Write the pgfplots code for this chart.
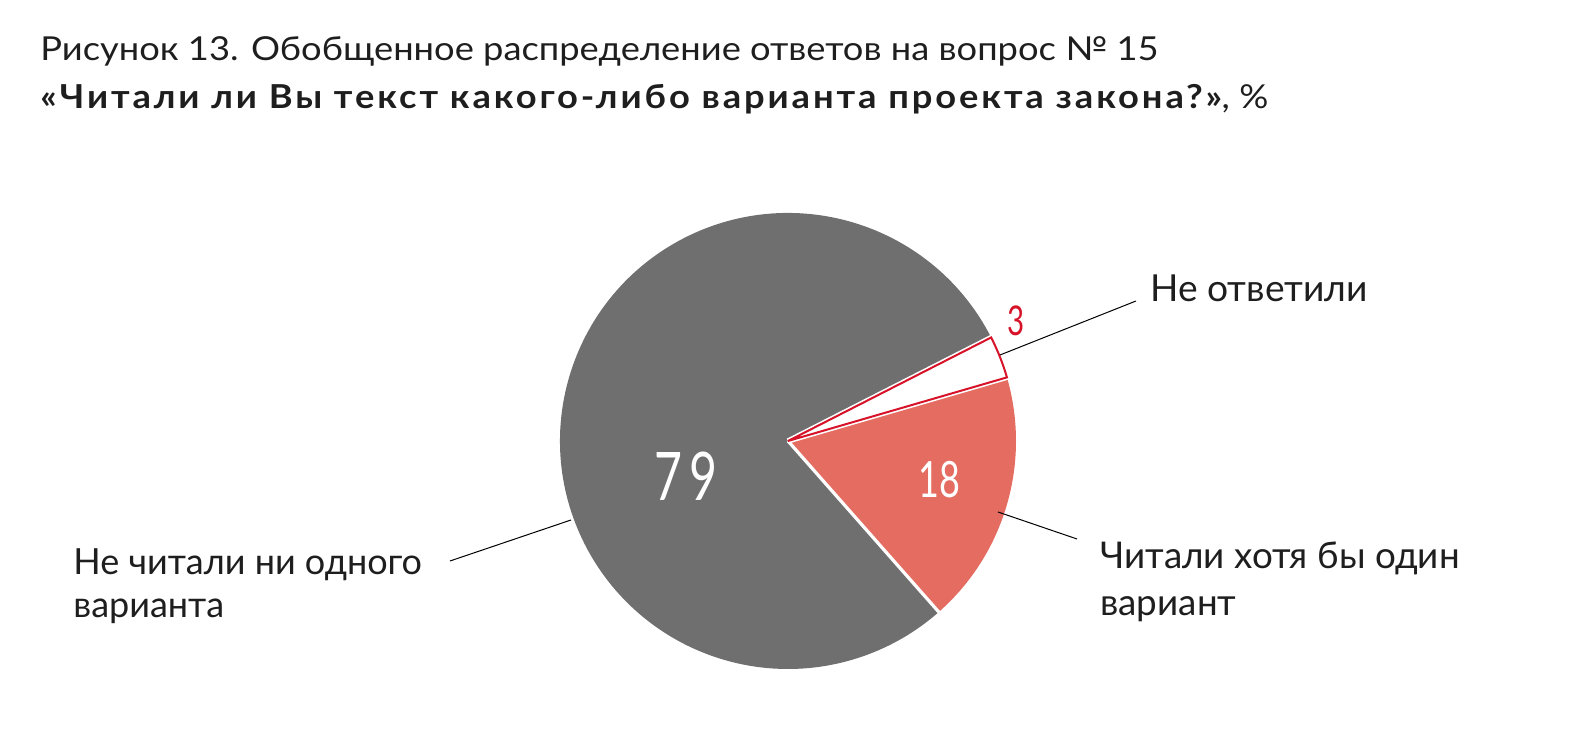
\documentclass[border=0pt]{standalone}
\usepackage{fontspec}
\setmainfont{Lato}
\usepackage{pgfplots}
\pgfplotsset{compat=1.18}
\usepackage{pgfplotstable}
\definecolor{pgray}{HTML}{6F6F6F}
\definecolor{psalmon}{HTML}{E56C60}
\definecolor{pred}{HTML}{D7132A}
\definecolor{ptext}{HTML}{1E1E1E}

% share (%) of each slice, counter-clockwise from the start angle
\pgfplotstableread{
idx value
0 18
1 3
2 79
}\piedata

\begin{document}
\begin{tikzpicture}
\pgfplotstablegetelem{0}{value}\of\piedata \pgfmathsetmacro\vA{\pgfplotsretval}
\pgfplotstablegetelem{1}{value}\of\piedata \pgfmathsetmacro\vB{\pgfplotsretval}
\pgfplotstablegetelem{2}{value}\of\piedata \pgfmathsetmacro\vC{\pgfplotsretval}
\pgfmathsetmacro\aZ{-48.6}
\pgfmathsetmacro\aA{\aZ+3.6*\vA}
\pgfmathsetmacro\aB{\aA+3.6*\vB}
\pgfmathsetmacro\aC{\aB+3.6*\vC}
\begin{axis}[width=790pt,height=366pt,scale only axis,
  xmin=0,xmax=1580,ymin=0,ymax=732,hide axis,clip=false]
\path (axis cs:0,0) rectangle (axis cs:1580,732);
% slices
\fill[psalmon] (axis cs:788,291) -- ++(\aZ:114pt) arc[start angle=\aZ,end angle=\aA,radius=114pt] -- cycle;
\fill[pgray] (axis cs:788,291) -- ++(\aB:114pt) arc[start angle=\aB,end angle=\aC,radius=114pt] -- cycle;
% separators
\draw[white,line width=1.6pt] (axis cs:788,291) -- ++(\aZ:114.5pt);
\draw[white,line width=2.6pt] (axis cs:788,291) -- ++(\aA:114.5pt);
\draw[white,line width=2.6pt] (axis cs:788,291) -- ++(\aB:114.5pt);
% small slice
\draw[pred,line width=1pt,fill=white,line join=miter] (axis cs:788,291) -- ++(\aA:114pt) arc[start angle=\aA,end angle=\aB,radius=114pt] -- cycle;
% leader lines
\draw[black,line width=0.5pt] (axis cs:1000,377) -- (axis cs:1136,431);
\draw[black,line width=0.5pt] (axis cs:998,220) -- (axis cs:1077,193);
\draw[black,line width=0.5pt] (axis cs:450,171) -- (axis cs:571,212);
% title
\node[anchor=base west,inner sep=0pt,font=\fontsize{16.5pt}{18pt}\selectfont,text=ptext] at (axis cs:40,671) {\scalebox{1.1}[1]{Рисунок 13. Обобщенное распределение ответов на вопрос №~15}};
\node[anchor=base west,inner sep=0pt,font=\fontsize{16.5pt}{18pt}\selectfont,text=ptext] at (axis cs:40,623) {\scalebox{1.1}[1]{{\bfseries\addfontfeatures{LetterSpace=8}«Читали ли Вы текст какого-либо варианта проекта закона?»}, \%}};
% slice values
\node[inner sep=0pt,text=pred,font=\fontsize{20.5pt}{21pt}\selectfont] at (axis cs:1016,411) {\scalebox{0.72}[1]{3}};
\node[inner sep=0pt,text=white,font=\fontsize{33.5pt}{34pt}\selectfont] at (axis cs:686,256) {\scalebox{0.72}[1]{7\,9}};
\node[inner sep=0pt,text=white,font=\fontsize{25pt}{26pt}\selectfont] at (axis cs:939.5,252) {\scalebox{0.72}[1]{18}};
% category labels
\node[anchor=base west,inner sep=0pt,text=ptext,font=\fontsize{18.6pt}{20pt}\selectfont] at (axis cs:1150,430) {Не ответили};
\node[anchor=base west,inner sep=0pt,text=ptext,font=\fontsize{18.4pt}{20pt}\selectfont] at (axis cs:1100,163) {Читали хотя бы один};
\node[anchor=base west,inner sep=0pt,text=ptext,font=\fontsize{18.4pt}{20pt}\selectfont] at (axis cs:1100,116) {вариант};
\node[anchor=base west,inner sep=0pt,text=ptext,font=\fontsize{18pt}{20pt}\selectfont] at (axis cs:73,157) {Не читали ни одного};
\node[anchor=base west,inner sep=0pt,text=ptext,font=\fontsize{18pt}{20pt}\selectfont] at (axis cs:73,114) {варианта};
\end{axis}
\end{tikzpicture}
\end{document}
